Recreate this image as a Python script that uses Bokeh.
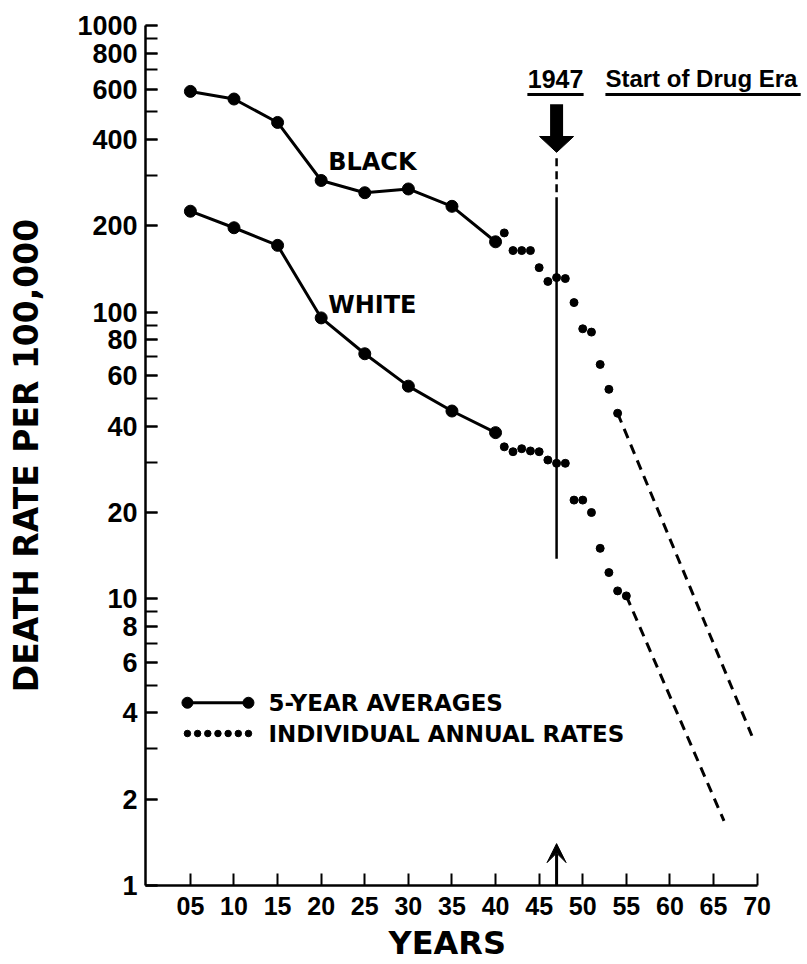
from bokeh.plotting import figure
from bokeh.models import Range1d, FixedTicker, CustomJSTickFormatter, Arrow, VeeHead, Title
from bokeh.core.properties import value
from bokeh.embed import file_html
from bokeh.resources import INLINE

# ---------------- data (years after 1900, deaths per 100,000) ----------------
avg_years = [5, 10, 15, 20, 25, 30, 35, 40]
black_avg = [589, 554, 459, 288, 261, 269, 234, 176]
white_avg = [225, 197, 171, 95.5, 71.6, 55.2, 45.2, 38.0]

black_annual_years = [41, 42, 43, 44, 45, 46, 47, 48, 49, 50, 51, 52, 53, 54]
black_annual = [189, 164, 164, 164, 143, 128, 132, 131, 108, 87.5, 85.2, 65.7, 53.8, 44.4]

white_annual_years = [41, 42, 43, 44, 45, 46, 47, 48, 49, 50, 51, 52, 53, 54, 55]
white_annual = [33.9, 32.6, 33.4, 32.8, 32.6, 30.5, 29.7, 29.7, 22.1, 22.1, 20.0, 15.0, 12.35, 10.66, 10.24]

black_proj_years = [54, 69.4]
black_proj = [44.4, 3.33]
white_proj_years = [55, 66.2]
white_proj = [10.24, 1.68]

drug_era_year = 47

y_ticks = [1, 2, 4, 6, 8, 10, 20, 40, 60, 80, 100, 200, 400, 600, 800, 1000]
y_minor_ticks = [m * 10 ** e for e in range(3) for m in range(1, 10)] + [1000]
x_ticks = [5, 10, 15, 20, 25, 30, 35, 40, 45, 50, 55, 60, 65, 70]
x_tick_labels = ["05", "10", "15", "20", "25", "30", "35", "40", "45", "50", "55", "60", "65", "70"]

# ---------------- figure ----------------
p = figure(frame_width=660, frame_height=860,
           x_range=Range1d(-0.15, 75.55), y_range=Range1d(1, 1000),
           y_axis_type="log", output_backend="svg", toolbar_location=None,
           min_border_left=145, min_border_top=25, min_border_right=2, min_border_bottom=79)
p.outline_line_color = None
p.grid.visible = False
p.background_fill_color = "white"
p.border_fill_color = "white"

DIG = "Liberation Sans"
LET = "DejaVu Sans"

for ax in (p.xaxis[0], p.yaxis[0]):
    ax.axis_line_width = 2.5
    ax.axis_line_color = "black"
    ax.major_tick_in = 12
    ax.major_tick_out = 0
    ax.major_tick_line_width = 2
    ax.major_tick_line_color = "black"
    ax.minor_tick_line_width = 2
    ax.minor_tick_line_color = "black"
    ax.major_label_text_color = "black"
    ax.major_label_text_font = DIG
    ax.major_label_text_font_style = "bold"
    ax.axis_label_text_color = "black"
    ax.axis_label_text_font = LET
    ax.axis_label_text_font_style = "bold"

ya = p.yaxis[0]
ya.ticker = FixedTicker(ticks=y_ticks, minor_ticks=y_minor_ticks)
ya.formatter = CustomJSTickFormatter(code="return String(Math.round(tick));")
ya.minor_tick_in = 12
ya.minor_tick_out = 0
ya.major_label_text_font_size = "27px"
ya.major_label_standoff = 8
ya.axis_label = "DEATH RATE PER 100,000"
ya.axis_label_text_font_size = "33px"
ya.axis_label_standoff = 28

xa = p.xaxis[0]
xa.ticker = FixedTicker(ticks=x_ticks, minor_ticks=[])
xa.major_label_overrides = {t: s for t, s in zip(x_ticks, x_tick_labels)}
xa.bounds = (-0.15, 70)
xa.minor_tick_in = 0
xa.minor_tick_out = 0
xa.major_label_text_font_size = "25px"
xa.major_label_standoff = 11

# x-axis title centred under the drawn axis (0..70), not the wider frame
p.add_layout(Title(text="YEARS", align="left", offset=243, standoff=9,
                   text_font=LET, text_font_style="bold", text_font_size="32px",
                   text_color="black"), "below")

# ---------------- series ----------------
for ys in (black_avg, white_avg):
    p.line(avg_years, ys, line_color="black", line_width=3)
    p.scatter(avg_years, ys, size=12, color="black")

p.scatter(black_annual_years, black_annual, size=8, color="black")
p.scatter(white_annual_years, white_annual, size=8, color="black")

p.line(black_proj_years, black_proj, line_color="black", line_width=3, line_dash="10 7")
p.line(white_proj_years, white_proj, line_color="black", line_width=3, line_dash="10 7")

# ---------------- 1947 marker ----------------
p.segment(x0=[drug_era_year], y0=[344], x1=[drug_era_year], y1=[244],
          line_color="black", line_width=2.5, line_dash="8 5")
p.segment(x0=[drug_era_year], y0=[244], x1=[drug_era_year], y1=[13.8],
          line_color="black", line_width=2.5)
p.segment(x0=[drug_era_year], y0=[531], x1=[drug_era_year], y1=[405],
          line_color="black", line_width=13, line_cap="butt")
p.patch([drug_era_year - 1.95, drug_era_year + 1.95, drug_era_year], [410, 410, 361],
        color="black")
p.add_layout(Arrow(end=VeeHead(size=19, fill_color="black", line_color="black"),
                   x_start=drug_era_year, y_start=1, x_end=drug_era_year, y_end=1.40,
                   line_color="black", line_width=3))

p.text(x=[43.7], y=[651], text=["1947"], text_font=value(DIG), text_font_style="bold",
       text_font_size="25px", text_baseline="middle", text_align="left", text_color="black")
p.text(x=[52.6], y=[651], text=["Start of Drug Era"], text_font=value(DIG), text_font_style="bold",
       text_font_size="24px", text_baseline="middle", text_align="left", text_color="black")
p.segment(x0=[43.65, 52.6], y0=[575, 575], x1=[50.1, 75.0], y1=[575, 575],
          line_color="black", line_width=3)

p.text(x=[20.8], y=[333], text=["BLACK"], text_font=value(LET), text_font_style="bold",
       text_font_size="24px", text_baseline="middle", text_align="left", text_color="black")
p.text(x=[20.8], y=[105.8], text=["WHITE"], text_font=value(LET), text_font_style="bold",
       text_font_size="24px", text_baseline="middle", text_align="left", text_color="black")

# ---------------- legend ----------------
p.line([4.66, 11.66], [4.34, 4.34], line_color="black", line_width=3)
p.scatter([4.66, 11.66], [4.34, 4.34], size=11, color="black")
p.scatter([4.66 + i * 7.0 / 6 for i in range(7)], [3.39] * 7, size=6.5, color="black")
p.text(x=[13.95, 13.95], y=[4.34, 3.39], text=["5-YEAR AVERAGES", "INDIVIDUAL ANNUAL RATES"],
       text_font=value(LET), text_font_style="bold", text_font_size="23px",
       text_baseline="middle", text_align="left", text_color="black")

open("out.html", "w").write(file_html(p, INLINE))
